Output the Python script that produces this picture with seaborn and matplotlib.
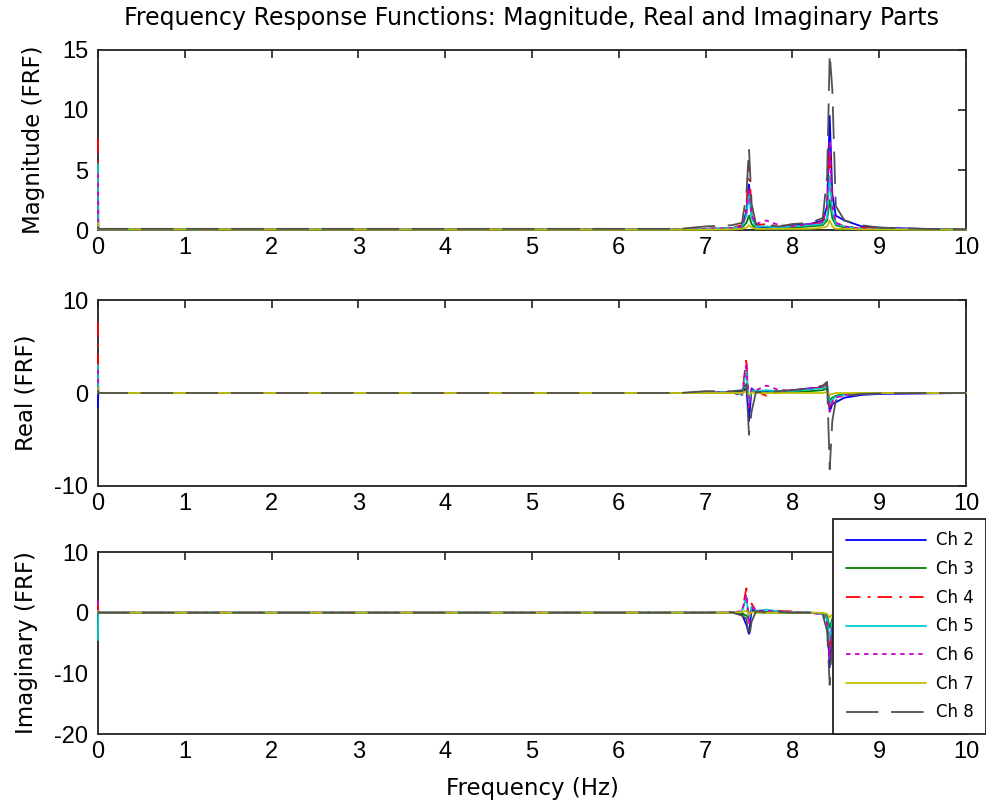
import numpy as np
import pandas as pd
import seaborn as sns
import matplotlib
matplotlib.use("Agg")
import matplotlib.pyplot as plt

sns.set_style("white")
plt.rcParams['font.family'] = ['DejaVu Sans']
plt.rcParams['axes.unicode_minus'] = False
plt.rcParams['text.color'] = 'black'
plt.rcParams['axes.labelcolor'] = 'black'

# frequency points (Hz) shared by every channel
freq = [0.0, 0.003, 6.7, 7.0, 7.3, 7.42, 7.47, 7.50, 7.53, 7.58, 7.7, 7.85,
        8.0, 8.2, 8.35, 8.40, 8.43, 8.46, 8.50, 8.6, 8.8, 9.0, 9.5, 10.0]

channels = ['Ch 2', 'Ch 3', 'Ch 4', 'Ch 5', 'Ch 6', 'Ch 7', 'Ch 8']

# magnitude |FRF|
mag_ch2 = [2.5, 0.05, 0.05, 0.1, 0.15, 0.3, 1.5, 3.8, 1.2, 0.3, 0.2, 0.15, 0.4, 0.5, 0.8, 2.0, 9.5, 3.0, 1.2, 0.8, 0.3, 0.2, 0.1, 0.05]
mag_ch3 = [1.0, 0.05, 0.03, 0.05, 0.1, 0.2, 0.6, 1.2, 0.5, 0.1, 0.1, 0.1, 0.2, 0.3, 0.4, 0.8, 2.5, 1.0, 0.4, 0.2, 0.1, 0.05, 0.05, 0.03]
mag_ch4 = [7.6, 0.05, 0.05, 0.1, 0.2, 0.4, 2.0, 5.5, 1.5, 0.4, 0.5, 0.3, 0.3, 0.5, 0.6, 1.5, 7.0, 2.0, 0.6, 0.3, 0.2, 0.1, 0.05, 0.03]
mag_ch5 = [5.5, 0.05, 0.05, 0.1, 0.15, 0.3, 1.2, 3.0, 1.0, 0.3, 0.3, 0.2, 0.3, 0.4, 0.5, 1.0, 4.5, 1.5, 0.5, 0.3, 0.1, 0.1, 0.05, 0.03]
mag_ch6 = [4.7, 0.05, 0.05, 0.1, 0.15, 0.3, 1.5, 3.5, 1.2, 0.5, 0.8, 0.4, 0.3, 0.5, 0.7, 1.8, 7.5, 2.0, 0.6, 0.3, 0.1, 0.1, 0.05, 0.03]
mag_ch7 = [0.6, 0.05, 0.03, 0.03, 0.05, 0.1, 0.2, 0.4, 0.2, 0.1, 0.1, 0.1, 0.1, 0.1, 0.2, 0.3, 0.8, 0.3, 0.1, 0.1, 0.05, 0.05, 0.03, 0.03]
mag_ch8 = [0.3, 0.1, 0.1, 0.3, 0.4, 0.6, 3.0, 6.8, 2.2, 0.5, 0.4, 0.3, 0.5, 0.6, 1.0, 4.5, 14.7, 11.7, 2.0, 0.8, 0.4, 0.2, 0.1, 0.05]

# real part
re_ch2 = [-1.5, 0, 0, 0.05, 0.1, 0.2, 0.5, -3.0, 0.5, 0.1, 0.1, 0.1, 0.3, 0.5, 0.6, 0.8, -2.0, -1.2, -1.0, -0.5, -0.2, -0.1, -0.05, 0]
re_ch3 = [0.5, 0, 0, 0.02, 0.05, 0.1, 0.3, -0.8, 0.3, 0.05, 0.05, 0.05, 0.1, 0.2, 0.3, 0.5, -0.8, -0.5, -0.3, -0.1, -0.05, 0, 0, 0]
re_ch4 = [7.6, 0, 0, 0.05, 0.1, -0.3, 3.8, -1.5, 0.3, 0.2, -0.3, 0.2, 0.3, 0.5, 0.6, 1.0, -1.5, -0.8, -0.5, -0.3, -0.1, 0, 0, 0]
re_ch5 = [3.0, 0, 0, 0.05, 0.1, -0.2, 2.5, -1.0, 0.3, 0.2, 0.3, 0.2, 0.2, 0.4, 0.5, 0.8, -1.2, -0.7, -0.4, -0.2, -0.1, 0, 0, 0]
re_ch6 = [2.5, 0, 0, 0.05, 0.1, -0.3, 3.2, -1.5, 0.4, 0.3, 0.8, 0.3, 0.3, 0.5, 0.7, 1.0, -2.0, -1.0, -0.5, -0.2, -0.1, 0, 0, 0]
re_ch7 = [0.5, 0, 0, 0, 0, 0, 0.2, -0.2, 0.05, 0, 0, 0, 0, 0, 0, 0.1, -0.2, -0.1, 0, 0, 0, 0, 0, 0]
re_ch8 = [0.3, 0, 0, 0.2, 0.2, 0.3, 1.0, -4.5, -2.0, 0.1, 0.1, 0.2, 0.3, 0.5, 0.8, 1.2, -8.2, -3.0, -0.8, -0.3, -0.1, -0.05, 0, 0]

# imaginary part
im_ch2 = [0.8, 0, 0, 0, 0, -0.3, -2.0, -3.5, 0.5, 0.2, 0.1, 0.1, 0, 0, -0.2, -1.0, -9.0, -3.0, -0.5, -0.2, -0.1, 0, 0, 0]
im_ch3 = [0.3, 0, 0, 0, 0, -0.1, -0.5, -1.0, 0.2, 0.05, 0, 0, 0, 0, -0.1, -0.5, -2.5, -1.0, -0.2, 0, 0, 0, 0, 0]
im_ch4 = [1.5, 0, 0, 0, 0, 0.3, 4.0, -1.5, 1.5, 0.3, 0.3, 0.3, 0.2, 0, -0.2, -1.5, -7.0, -2.0, -0.5, -0.1, 0, 0, 0, 0]
im_ch5 = [-4.5, 0, 0, 0, 0, 0.2, 2.5, -1.0, 1.0, 0.3, 0.5, 0.2, 0.1, 0, -0.2, -1.0, -4.5, -1.5, -0.3, -0.1, 0, 0, 0, 0]
im_ch6 = [2.0, 0, 0, 0, 0, 0.3, 3.0, -2.0, 1.0, 0.3, 0.3, 0.2, 0.1, 0, -0.3, -1.5, -7.5, -2.0, -0.5, -0.1, 0, 0, 0, 0]
im_ch7 = [0.3, 0, 0, 0, 0, 0.1, 0.3, -0.3, 0.1, 0, 0, 0, 0, 0, 0, -0.2, -0.8, -0.3, 0, 0, 0, 0, 0, 0]
im_ch8 = [0.2, 0, 0, 0, 0.1, -0.5, -1.0, -4.3, -1.5, 0.2, 0.1, 0.1, 0, 0, -0.3, -3.0, -11.9, -4.0, -1.0, -0.3, -0.1, 0, 0, 0]

colors = ['#0000ff', '#008000', '#ff0000', '#00cccc', '#cc00cc', '#c0c000', '#505050']
dash_styles = [None, None, (8, 4, 1.5, 4), None, (2.5, 2.5), None, (18, 7)]

panels = [
    ("Magnitude (FRF)", [mag_ch2, mag_ch3, mag_ch4, mag_ch5, mag_ch6, mag_ch7, mag_ch8], (0, 15), [0, 5, 10, 15]),
    ("Real (FRF)", [re_ch2, re_ch3, re_ch4, re_ch5, re_ch6, re_ch7, re_ch8], (-10, 10), [-10, 0, 10]),
    ("Imaginary (FRF)", [im_ch2, im_ch3, im_ch4, im_ch5, im_ch6, im_ch7, im_ch8], (-20, 10), [-20, -10, 0, 10]),
]

fig = plt.figure(figsize=(9.87, 8.10), dpi=100)
boxes = [[0.0993, 0.716, 0.8794, 0.2223],
         [0.0993, 0.400, 0.8794, 0.2296],
         [0.0993, 0.0938, 0.8794, 0.2247]]

axes = []
for (ylab, series, ylim, yticks), box in zip(panels, boxes):
    ax = fig.add_axes(box)
    for name, vals, col, dsh in zip(channels, series, colors, dash_styles):
        sns.lineplot(x=freq, y=vals, color=col, linewidth=1.3, ax=ax,
                     estimator=None, sort=False, legend=False, label=name,
                     zorder=3, clip_on=False)
        if dsh is not None:
            ax.lines[-1].set_dashes(dsh)
    ax.set_xlim(0, 10)
    ax.set_ylim(*ylim)
    ax.set_yticks(yticks)
    ax.set_xticks(range(0, 11))
    ax.set_ylabel(ylab, fontsize=16.5, labelpad=12)
    ax.tick_params(direction='in', top=True, right=True, length=6, width=1.2,
                   colors='#222222', labelcolor='black')
    ax.tick_params(axis='x', pad=5)
    ax.tick_params(axis='y', pad=7)
    for lbl in ax.get_xticklabels() + ax.get_yticklabels():
        lbl.set_fontfamily('Liberation Sans')
        lbl.set_fontsize(17)
    for sp in ax.spines.values():
        sp.set_color('#222222')
        sp.set_linewidth(1.3)
    if ax.get_legend() is not None:
        ax.get_legend().remove()
    axes.append(ax)

axes[0].set_title("Frequency Response Functions: Magnitude, Real and Imaginary Parts",
                  fontsize=17, pad=18, color='black')
axes[2].set_xlabel("Frequency (Hz)", fontsize=16.5, labelpad=10)

handles = axes[2].lines[:7]
leg = fig.legend(handles, channels, loc='upper right',
                 bbox_to_anchor=(0.999, 0.3593), fontsize=12,
                 frameon=True, fancybox=False, handlelength=4.8,
                 handletextpad=0.6, labelspacing=0.64, borderpad=0.75,
                 borderaxespad=0)
leg.get_frame().set_edgecolor('#222222')
leg.get_frame().set_linewidth(1.3)
leg.get_frame().set_alpha(1)
for t in leg.get_texts():
    t.set_color('black')

fig.savefig("out.png", dpi=100)
